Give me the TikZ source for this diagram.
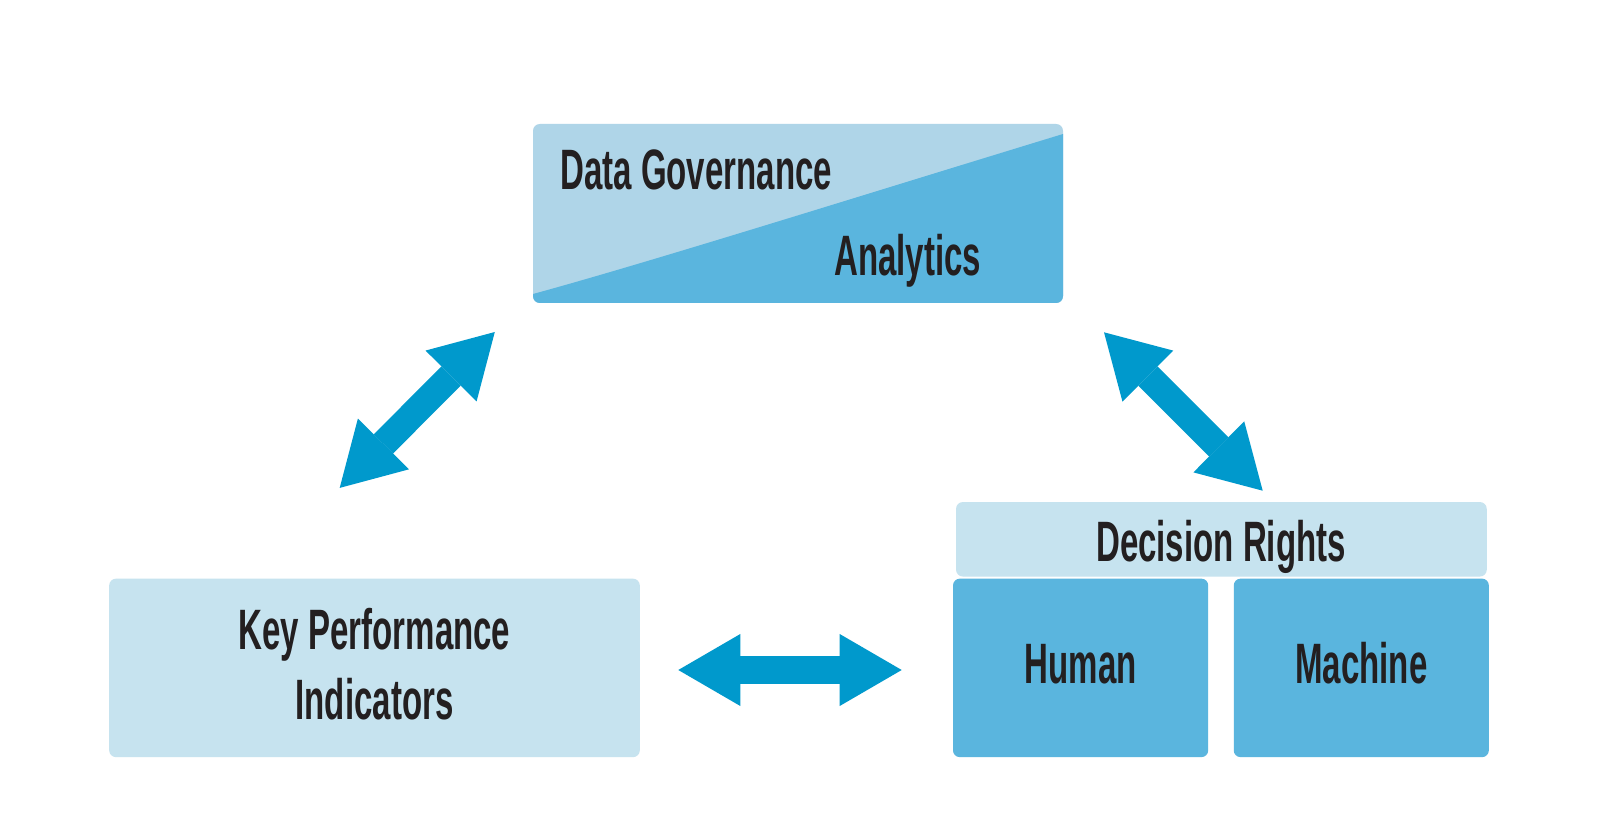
\documentclass[tikz,border=0pt]{standalone}
\usepackage{fontspec}
\usetikzlibrary{arrows.meta}
\newfontfamily\condfont[FakeStretch=0.58]{Liberation Sans}
\definecolor{arrowc}{HTML}{0099CC}
\definecolor{lightc}{HTML}{AFD5E8}
\definecolor{darkc}{HTML}{5AB5DE}
\definecolor{palec}{HTML}{C6E3EF}
\definecolor{inkc}{HTML}{231F20}
\tikzset{
  box/.style={rounded corners=0.17cm, inner sep=0pt},
  lbl/.style={inner sep=0pt, text=inkc, font=\condfont\bfseries\fontsize{40.5}{49.4}\selectfont},
  dbl/.style={arrowc, line width=0.68cm,
    {Triangle[width=1.8cm,length=1.55cm,line width=0pt]}-{Triangle[width=1.8cm,length=1.55cm,line width=0pt]}}
}
\begin{document}
\begin{tikzpicture}[x=0.025cm,y=-0.025cm]
\fill[white] (0,0) rectangle (1600,833);
\useasboundingbox (0,0) rectangle (1600,833);

% top box
\node[box, fill=lightc, minimum width=530*0.025cm, minimum height=179*0.025cm] (dg) at (798,213.5) {};
\fill[darkc] (533,294) .. controls (650,262) and (850,199) .. (1063,134)
    [rounded corners=0.17cm] -- (1063,303) -- (533,303) [sharp corners] -- cycle;
\node[lbl, anchor=base west] (dgt) at (560,190) {Data Governance};
\node[lbl, anchor=base west] (ant) at (834,275.5) {Analytics};

% KPI
\node[box, fill=palec, minimum width=530.6*0.025cm, minimum height=178.5*0.025cm] (kpi) at (374.5,667.9) {};
\node[lbl, align=center, anchor=base] (kpit) at (374.5,719.4) {Key Performance\\Indicators};

% Decision rights
\node[box, fill=palec, minimum width=530.7*0.025cm, minimum height=74.5*0.025cm] (dr) at (1221.4,539.3) {};
\node[lbl, anchor=base] (drt) at (1221,561.2) {Decision Rights};
\node[box, fill=darkc, minimum width=255.2*0.025cm, minimum height=178.5*0.025cm] (hu) at (1080.6,667.9) {};
\node[lbl, anchor=base] (hut) at (1080.6,683.7) {Human};
\node[box, fill=darkc, minimum width=255.1*0.025cm, minimum height=178.5*0.025cm] (ma) at (1361.3,667.9) {};
\node[lbl, anchor=base] (mat) at (1361.3,683.7) {Machine};

% arrows
\coordinate (a1s) at (339.7,487.9);
\coordinate (a1e) at (494.8,332.0);
\coordinate (a2s) at (1104.0,332.3);
\coordinate (a2e) at (1262.7,490.7);
\coordinate (a3s) at (678.3,670);
\coordinate (a3e) at (901.7,670);
\draw[dbl] (a1s) -- (a1e);
\draw[dbl] (a2s) -- (a2e);
\draw[dbl] (a3s) -- (a3e);
\end{tikzpicture}
\end{document}
